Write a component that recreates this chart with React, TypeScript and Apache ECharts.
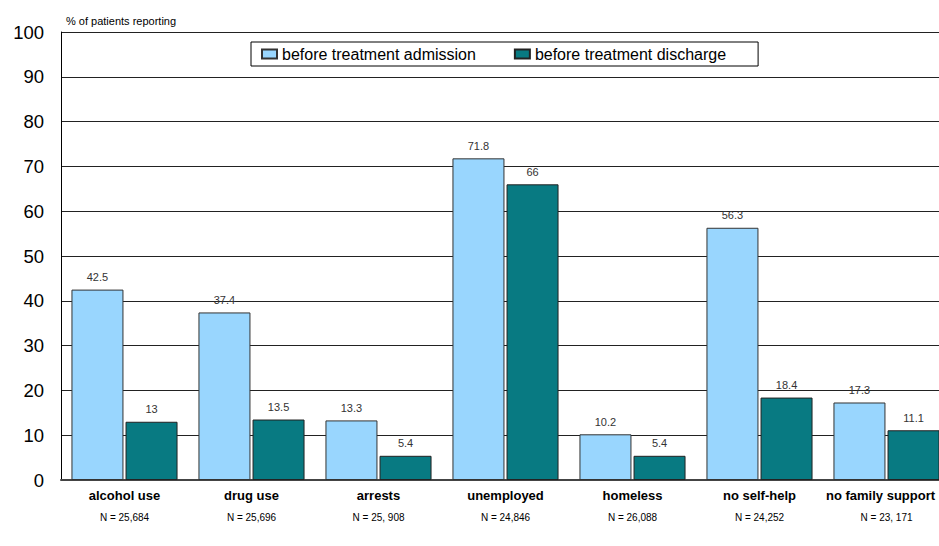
import React, { useEffect, useRef } from "react";
import * as echarts from "echarts";

const categories = [
  "alcohol use",
  "drug use",
  "arrests",
  "unemployed",
  "homeless",
  "no self-help",
  "no family support",
];
const sampleSizes = [
  "N = 25,684",
  "N = 25,696",
  "N = 25, 908",
  "N = 24,846",
  "N = 26,088",
  "N = 24,252",
  "N = 23, 171",
];
const admission = [42.5, 37.4, 13.3, 71.8, 10.2, 56.3, 17.3];
const discharge = [13, 13.5, 5.4, 66, 5.4, 18.4, 11.1];
const yTicks = [0, 10, 20, 30, 40, 50, 60, 70, 80, 90, 100];

const FONT = "'Liberation Sans', Arial, sans-serif";

export default function App() {
  const ref = useRef<HTMLDivElement>(null);
  useEffect(() => {
    if (!ref.current) return;
    const chart = echarts.init(ref.current, null, { renderer: "svg" });
    const labelCfg = {
      show: true,
      position: "top",
      distance: 7,
      fontSize: 11,
      color: "#333",
      fontFamily: FONT,
    };
    const catStyle = { fontSize: 13, fontWeight: "bold", color: "#000", lineHeight: 16, fontFamily: FONT };
    chart.setOption({
      animation: false,
      textStyle: { fontFamily: FONT },
      title: {
        text: "% of patients reporting",
        left: 61,
        top: 10,
        textStyle: { fontSize: 11, fontWeight: "normal", color: "#000", fontFamily: FONT },
      },
      legend: {
        left: 251,
        top: 42,
        orient: "horizontal",
        borderColor: "#000",
        borderWidth: 1,
        padding: [4, 32, 4, 10],
        itemWidth: 15,
        itemHeight: 9,
        itemGap: 38,
        textStyle: { fontSize: 16, color: "#000", fontFamily: FONT },
        icon: "rect",
        data: ["before treatment admission", "before treatment discharge"],
      },
      grid: {
        left: 61,
        top: 32,
        width: 889,
        height: 448,
        containLabel: false,
        outerBoundsMode: "none",
      },
      xAxis: {
        type: "category",
        data: categories,
        axisLine: { show: true, lineStyle: { color: "#444", width: 2 } },
        axisTick: { show: false },
        axisLabel: {
          interval: 0,
          margin: 7,
          hideOverlap: false,
          formatter: (v: string) => {
            const i = categories.indexOf(v);
            const key = i === categories.length - 1 ? "last" : "a";
            return "{" + key + "|" + v + "}\n{n|" + sampleSizes[i] + "}";
          },
          rich: {
            a: catStyle,
            last: { ...catStyle, padding: [0, 12, 0, 0] },
            n: { fontSize: 10, color: "#000", lineHeight: 28, fontFamily: FONT },
          },
        },
      },
      yAxis: {
        type: "value",
        min: yTicks[0],
        max: yTicks[yTicks.length - 1],
        interval: 10,
        axisLine: { show: true, lineStyle: { color: "#000", width: 1 } },
        axisTick: { show: false },
        axisLabel: { fontSize: 18.5, color: "#000", margin: 17, fontFamily: FONT },
        splitLine: { show: true, lineStyle: { color: "#222", width: 1 } },
      },
      series: [
        {
          name: "before treatment admission",
          type: "bar",
          data: admission,
          barWidth: 52,
          barGap: "4%",
          itemStyle: { color: "#99D6FE", borderColor: "#333", borderWidth: 1 },
          label: labelCfg,
        },
        {
          name: "before treatment discharge",
          type: "bar",
          data: discharge,
          barWidth: 52,
          itemStyle: { color: "#087A82", borderColor: "#222", borderWidth: 1 },
          label: labelCfg,
        },
      ],
    });
    return () => chart.dispose();
  }, []);
  return (
    <div
      ref={ref}
      style={{ position: "absolute", left: 0, top: 0, width: 939, height: 546, background: "#fff" }}
    />
  );
}
